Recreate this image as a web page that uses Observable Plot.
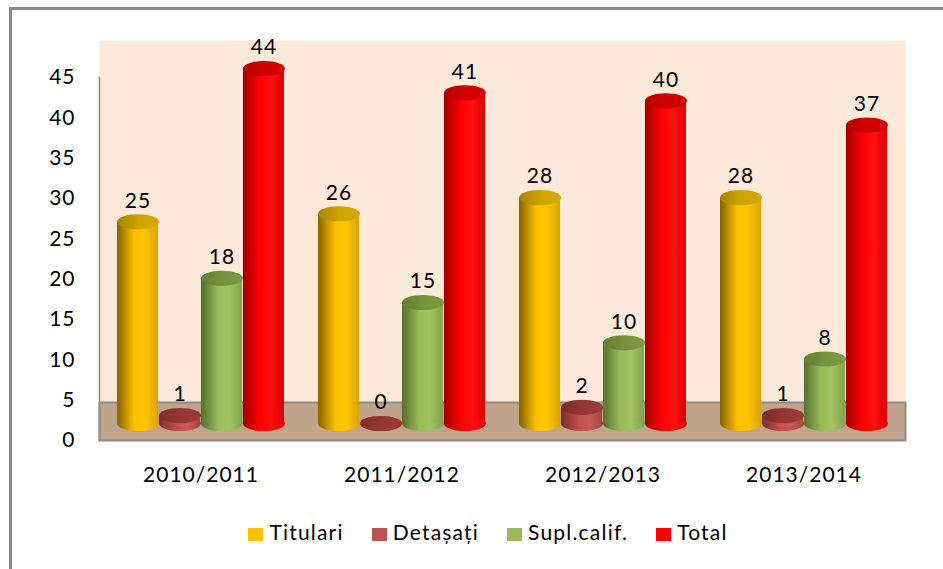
<!DOCTYPE html>
<html><head><meta charset="utf-8">
<script src="https://cdn.jsdelivr.net/npm/d3@7"></script>
<script src="https://cdn.jsdelivr.net/npm/@observablehq/plot@0.6"></script>
<style>
body{margin:0;background:#fff;font-family:Lato,"Open Sans",sans-serif;}
#wrap{position:relative;width:943px;height:569px;overflow:hidden;background:#fff;}
#chart{position:absolute;left:0;top:0;}
#border{position:absolute;left:9px;top:7px;width:1000px;height:700px;border-left:3px solid #888;border-top:3px solid #888;pointer-events:none;}
#legend{position:absolute;top:519px;left:0;width:976px;display:flex;justify-content:center;gap:28px;font-size:21px;letter-spacing:1.2px;color:#000;line-height:26px;}
.item{display:flex;align-items:center;gap:6px}
.sw{width:15px;height:13px;display:inline-block;margin-top:4px}
</style></head><body>
<div id="wrap"><div id="chart"></div><div id="legend"></div><div id="border"></div></div>
<script>
// ---- data ----
const years = ["2010/2011", "2011/2012", "2012/2013", "2013/2014"];
const seriesNames = ["Titulari", "Detașați", "Supl.calif.", "Total"];
const titulari = [25, 26, 28, 28];
const detasati = [1, 0, 2, 1];
const suplCalif = [18, 15, 10, 8];
const total = [44, 41, 40, 37];
const yTicks = [0, 5, 10, 15, 20, 25, 30, 35, 40, 45];
const seriesColors = ["#FFC000", "#C0504D", "#9BBB59", "#FF0000"];

// cylinder shading (styles)
const bodyStops = [
  ["#846300", "#FFC000", "#FFC400", "#D8A300"],
  ["#7A2E2C", "#C0504D", "#C85A57", "#A44240"],
  ["#55702C", "#9BBB59", "#A2C262", "#84A24A"],
  ["#A00000", "#FF0000", "#FF1010", "#DC0000"]
];
const topStops = [
  ["#A88200", "#CFA200", "#D4A700"],
  ["#7E2C2A", "#963634", "#9C3A38"],
  ["#62802F", "#76933C", "#7C9A42"],
  ["#B00000", "#D00000", "#D40000"]
];

const seriesValues = [titulari, detasati, suplCalif, total];
const W = 943, H = 500, mL = 99, mR = 38, mT = 60, mB = 77;
const pIn = 0.1667, pOut = 0.0833;
const step = (W - mL - mR) / (years.length - pIn + 2 * pOut);
const bw = step * (1 - pIn);
const w = bw / seriesNames.length;

// ellipse symbol for cylinder caps
const ellipse = {
  draw(ctx, size) {
    const rx = Math.sqrt(size / Math.PI), ry = rx * 0.36, k = 0.5523;
    ctx.moveTo(-rx, 0);
    ctx.bezierCurveTo(-rx, -ry * k, -rx * k, -ry, 0, -ry);
    ctx.bezierCurveTo(rx * k, -ry, rx, -ry * k, rx, 0);
    ctx.bezierCurveTo(rx, ry * k, rx * k, ry, 0, ry);
    ctx.bezierCurveTo(-rx * k, ry, -rx, ry * k, -rx, 0);
    ctx.closePath();
  }
};

const marks = [
  Plot.frame({fill: "#FDE9D9", insetTop: -20, insetBottom: 21}),
  Plot.frame({fill: "#BFA48B", stroke: "#8C8C8C", strokeWidth: 2, insetTop: 342, insetBottom: -17}),
  Plot.frame({anchor: "left", stroke: "#8C8C8C", strokeWidth: 1.5, insetTop: 17, insetBottom: -17})
];

seriesNames.forEach((name, i) => {
  const rows = years.map((year, j) => ({year, value: seriesValues[i][j], series: name}));
  const dx = (i - (seriesNames.length - 1) / 2) * w;
  marks.push(
    Plot.dot(rows, {x: "year", y: () => 0, r: w / 2, symbol: ellipse, fill: `url(#body${i})`, stroke: "none", dx}),
    Plot.barY(rows, {x: "year", y: "value", fill: `url(#body${i})`, insetLeft: w * i, insetRight: w * (seriesNames.length - 1 - i)}),
    Plot.dot(rows, {x: "year", y: "value", r: w / 2, symbol: ellipse, fill: `url(#top${i})`, stroke: "none", dx}),
    Plot.text(rows, {x: "year", y: "value", text: d => String(d.value), dx, dy: -21, fontSize: 21, fill: "#000"})
  );
});

marks.push(
  Plot.axisY({ticks: yTicks, tickSize: 0, tickPadding: 24, dy: 17, fontSize: 21, label: null, fill: "#000"}),
  Plot.axisX({tickSize: 0, tickPadding: 44, fontSize: 21, label: null, fill: "#000"})
);

const chart = Plot.plot({
  width: W, height: H,
  marginLeft: mL, marginRight: mR, marginTop: mT, marginBottom: mB,
  style: {fontFamily: "Lato, 'Open Sans', sans-serif", fontSize: "21px", letterSpacing: "1px", color: "#000", background: "transparent"},
  x: {type: "band", domain: years, paddingInner: pIn, paddingOuter: pOut, axis: null},
  y: {domain: [0, 45], axis: null},
  marks
});

// gradients
const svg = d3.select(chart);
const defs = svg.insert("defs", ":first-child");
bodyStops.forEach((stops, i) => {
  const g = defs.append("linearGradient").attr("id", `body${i}`).attr("x1", "0").attr("x2", "1").attr("y1", "0").attr("y2", "0");
  [0, 0.42, 0.68, 1].forEach((o, k) => g.append("stop").attr("offset", o).attr("stop-color", stops[k]));
});
topStops.forEach((stops, i) => {
  const g = defs.append("linearGradient").attr("id", `top${i}`).attr("x1", "0").attr("x2", "1").attr("y1", "0").attr("y2", "0");
  [0, 0.5, 1].forEach((o, k) => g.append("stop").attr("offset", o).attr("stop-color", stops[k]));
});
document.getElementById("chart").append(chart);

// legend
const legend = d3.select("#legend");
seriesNames.forEach((name, i) => {
  const it = legend.append("div").attr("class", "item");
  it.append("span").attr("class", "sw").style("background", seriesColors[i]);
  it.append("span").text(name);
});
</script>
</body></html>
